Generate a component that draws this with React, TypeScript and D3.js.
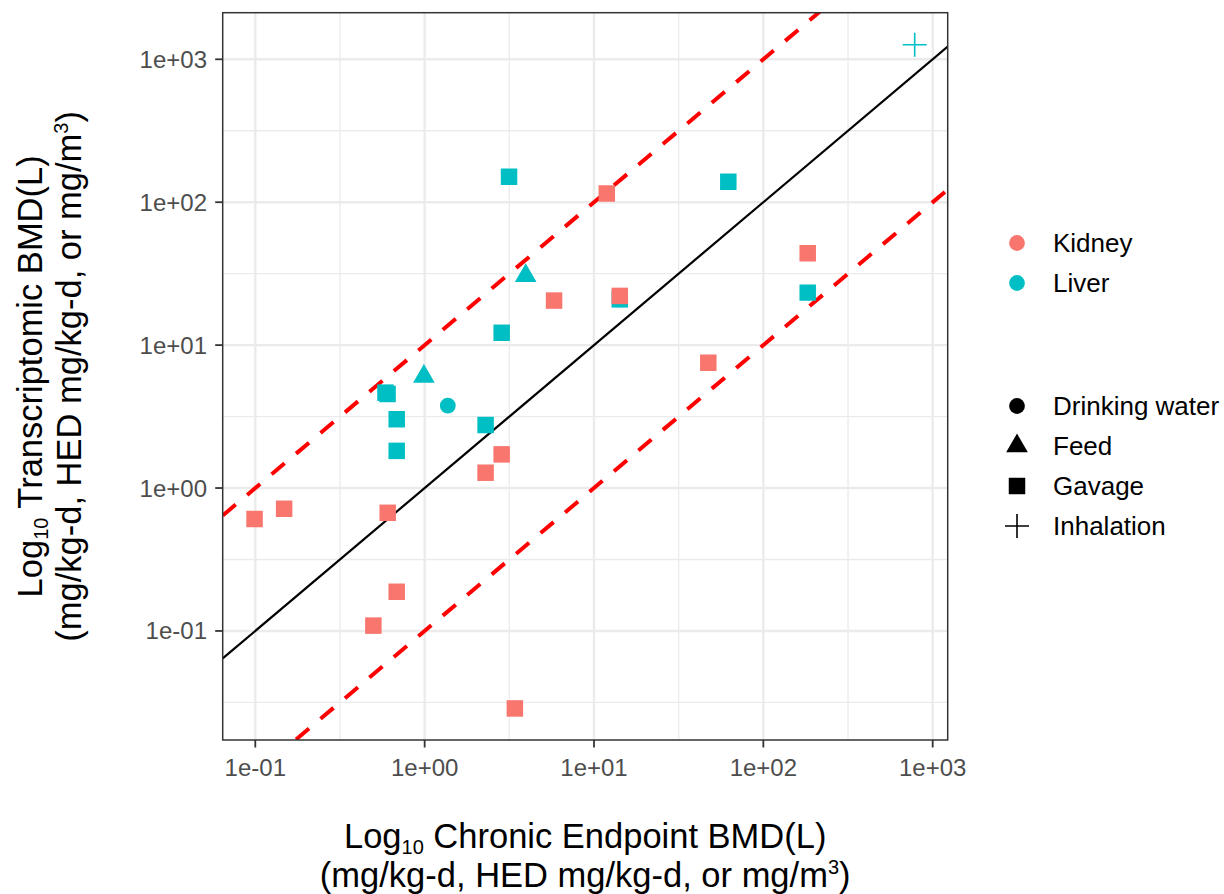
import React from "react";
import * as d3 from "d3";

// ---------- data ----------
const organ = [
  "Liver", "Liver", "Liver", "Liver", "Liver", "Liver", "Liver",
  "Liver", "Liver", "Liver", "Liver", "Liver", "Liver", "Liver",
  "Kidney", "Kidney", "Kidney", "Kidney", "Kidney", "Kidney", "Kidney",
  "Kidney", "Kidney", "Kidney", "Kidney", "Kidney", "Kidney",
];
const route = [
  "Gavage", "Feed", "Gavage", "Feed", "Gavage", "Gavage", "Gavage",
  "Inhalation", "Gavage", "Gavage", "Gavage", "Gavage", "Drinking water", "Gavage",
  "Gavage", "Gavage", "Gavage", "Gavage", "Gavage", "Gavage", "Gavage",
  "Gavage", "Gavage", "Gavage", "Gavage", "Gavage", "Gavage",
];
const chronicBMD = [
  3.15, 3.95, 2.85, 0.99, 62.1, 14.2, 182.8,
  783, 0.587, 0.604, 0.684, 0.684, 1.37, 2.29,
  11.9, 5.81, 14.2, 182.8, 47.3, 2.85, 2.29,
  0.099, 0.148, 0.605, 0.684, 0.498, 3.41,
];
const transcriptomicBMD = [
  150.7, 30.6, 12.2, 6.03, 139, 20.9, 23.3,
  1265, 4.65, 4.55, 3.03, 1.82, 3.77, 2.76,
  115, 20.5, 22.1, 43.9, 7.53, 1.72, 1.28,
  0.607, 0.716, 0.671, 0.188, 0.109, 0.0287,
];

const organLevels = ["Kidney", "Liver"];
const organColors = ["#F8766D", "#00BFC4"];
const routeLevels = ["Drinking water", "Feed", "Gavage", "Inhalation"];

const tickValues = [0.1, 1, 10, 100, 1000];
const tickLabels = ["1e-01", "1e+00", "1e+01", "1e+02", "1e+03"];
const xMinorValues = [10 ** -0.5, 10 ** 0.5, 10 ** 1.5, 10 ** 2.5];
const yMinorValues = [10 ** -1.5, 10 ** -0.5, 10 ** 0.5, 10 ** 1.5, 10 ** 2.5];
const refLineFactors = [1, 10, 0.1];

// ---------- layout ----------
const W = 1224;
const H = 894;
const P = { left: 222.7, right: 947.7, top: 12.7, bottom: 740 };
const FONT = "'Liberation Sans', Arial, Helvetica, sans-serif";

const x = d3.scaleLog().domain([10 ** -1.1925, 10 ** 3.0886]).range([P.left, P.right]);
const y = d3.scaleLog().domain([10 ** -1.763, 10 ** 3.326]).range([P.bottom, P.top]);
const color = d3.scaleOrdinal<string, string>().domain(organLevels).range(organColors);

const symSizes: Record<string, number> = { "Drinking water": 195, Feed: 204, Gavage: 272 };
const symTypes: Record<string, d3.SymbolType> = {
  "Drinking water": d3.symbolCircle,
  Feed: d3.symbolTriangle,
  Gavage: d3.symbolSquare,
};

function Marker({ cx, cy, shape, fill }: { cx: number; cy: number; shape: string; fill: string }) {
  if (shape === "Inhalation") {
    const a = 12;
    return (
      <path
        d={`M${cx - a},${cy}H${cx + a}M${cx},${cy - a}V${cy + a}`}
        stroke={fill}
        strokeWidth={1.6}
        fill="none"
      />
    );
  }
  const p = d3.symbol().type(symTypes[shape]).size(symSizes[shape])();
  return <path d={p || ""} transform={`translate(${cx},${cy})`} fill={fill} />;
}

export default function App() {
  const [d0, d1] = x.domain();

  return (
    <svg
      width={W}
      height={H}
      style={{ position: "absolute", left: 0, top: 0, background: "#fff" }}
      fontFamily={FONT}
    >
      <defs>
        <clipPath id="panel">
          <rect x={P.left} y={P.top} width={P.right - P.left} height={P.bottom - P.top} />
        </clipPath>
      </defs>
      <rect x={0} y={0} width={W} height={H} fill="#fff" />

      {/* grid */}
      <g stroke="#EBEBEB" fill="none">
        {xMinorValues.map((v, i) => (
          <line key={"xm" + i} x1={x(v)} x2={x(v)} y1={P.top} y2={P.bottom} strokeWidth={1.3} />
        ))}
        {yMinorValues.map((v, i) => (
          <line key={"ym" + i} y1={y(v)} y2={y(v)} x1={P.left} x2={P.right} strokeWidth={1.3} />
        ))}
        {tickValues.map((v, i) => (
          <line key={"xM" + i} x1={x(v)} x2={x(v)} y1={P.top} y2={P.bottom} strokeWidth={2.4} />
        ))}
        {tickValues.map((v, i) => (
          <line key={"yM" + i} y1={y(v)} y2={y(v)} x1={P.left} x2={P.right} strokeWidth={2.4} />
        ))}
      </g>

      {/* reference lines */}
      <g clipPath="url(#panel)">
        {refLineFactors.map((f, i) => {
          const pts = [d0, d1];
          const path = d3
            .line<number>()
            .x((v) => x(v))
            .y((v) => y(v * f))(pts);
          return f === 1 ? (
            <path key={i} d={path || ""} stroke="#000" strokeWidth={2.2} fill="none" />
          ) : (
            <path
              key={i}
              d={path || ""}
              stroke="#FF0000"
              strokeWidth={4}
              strokeDasharray="17 15"
              fill="none"
            />
          );
        })}
        {/* points */}
        {chronicBMD.map((cv, i) => (
          <Marker
            key={"p" + i}
            cx={x(cv)}
            cy={y(transcriptomicBMD[i])}
            shape={route[i]}
            fill={color(organ[i])}
          />
        ))}
      </g>

      {/* panel border */}
      <rect
        x={P.left}
        y={P.top}
        width={P.right - P.left}
        height={P.bottom - P.top}
        fill="none"
        stroke="#333333"
        strokeWidth={1.5}
      />

      {/* axes ticks */}
      <g stroke="#333333" strokeWidth={1.8}>
        {tickValues.map((v, i) => (
          <line key={"xt" + i} x1={x(v)} x2={x(v)} y1={P.bottom} y2={P.bottom + 7.5} />
        ))}
        {tickValues.map((v, i) => (
          <line key={"yt" + i} y1={y(v)} y2={y(v)} x1={P.left - 7.5} x2={P.left} />
        ))}
      </g>
      <g fill="#4D4D4D" fontSize={24}>
        {tickValues.map((v, i) => (
          <text key={"xl" + i} x={x(v)} y={776} textAnchor="middle">
            {tickLabels[i]}
          </text>
        ))}
        {tickValues.map((v, i) => (
          <text key={"yl" + i} x={207} y={y(v) + 8.5} textAnchor="end">
            {tickLabels[i]}
          </text>
        ))}
      </g>

      {/* axis titles */}
      <g fill="#000" fontSize={34.5}>
        <text x={(P.left + P.right) / 2} y={848} textAnchor="middle">
          Log
          <tspan fontSize={20} dy={6}>10</tspan>
          <tspan dy={-6}> Chronic Endpoint BMD(L)</tspan>
        </text>
        <text x={(P.left + P.right) / 2} y={887} textAnchor="middle">
          (mg/kg-d, HED mg/kg-d, or mg/m
          <tspan fontSize={20} dy={-13}>3</tspan>
          <tspan dy={13}>)</tspan>
        </text>
        <g transform={`translate(42,${(P.top + P.bottom) / 2}) rotate(-90)`}>
          <text x={0} y={0} textAnchor="middle">
            Log
            <tspan fontSize={20} dy={6}>10</tspan>
            <tspan dy={-6}> Transcriptomic BMD(L)</tspan>
          </text>
        </g>
        <g transform={`translate(81,${(P.top + P.bottom) / 2}) rotate(-90)`}>
          <text x={0} y={0} textAnchor="middle">
            (mg/kg-d, HED mg/kg-d, or mg/m
            <tspan fontSize={20} dy={-13}>3</tspan>
            <tspan dy={13}>)</tspan>
          </text>
        </g>
      </g>

      {/* legends */}
      <g fontSize={26} fill="#000">
        {organLevels.map((o, i) => {
          const cy = 243 + i * 40;
          return (
            <g key={"lo" + i}>
              <Marker cx={1017} cy={cy} shape="Drinking water" fill={color(o)} />
              <text x={1053} y={cy + 9}>{o}</text>
            </g>
          );
        })}
        {routeLevels.map((r, i) => {
          const cy = 406 + i * 40;
          return (
            <g key={"lr" + i}>
              <Marker cx={1017} cy={cy} shape={r} fill="#000" />
              <text x={1053} y={cy + 9}>{r}</text>
            </g>
          );
        })}
      </g>
    </svg>
  );
}
